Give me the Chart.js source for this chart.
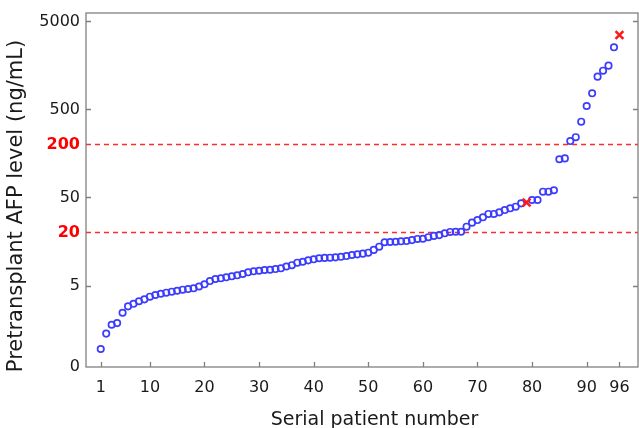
<!DOCTYPE html>
<html>
<head>
<meta charset="utf-8">
<script src="https://cdn.jsdelivr.net/npm/chart.js@4.4.1/dist/chart.umd.min.js"></script>
<style>
  html, body { margin: 0; padding: 0; background: #ffffff; }
  canvas { display: block; }
</style>
</head>
<body>
<canvas id="afp" width="639" height="428"></canvas>
<script>
// Serial patient numbers (x) and pretransplant AFP levels in ng/mL (y), sorted ascending
const serialNumbers = [1,2,3,4,5,6,7,8,9,10,11,12,13,14,15,16,17,18,19,20,21,22,23,24,25,26,27,28,29,30,31,32,33,34,35,36,37,38,39,40,41,42,43,44,45,46,47,48,49,50,51,52,53,54,55,56,57,58,59,60,61,62,63,64,65,66,67,68,69,70,71,72,73,74,75,76,77,78,79,80,81,82,83,84,85,86,87,88,89,90,91,92,93,94,95,96];
const afpLevels = [0.95,1.42,1.79,1.87,2.45,2.9,3.1,3.31,3.48,3.73,
                   3.9,4.03,4.14,4.25,4.36,4.48,4.56,4.65,4.87,5.16,
                   5.62,5.93,6.04,6.2,6.36,6.53,6.76,7.06,7.25,7.36,
                   7.5,7.55,7.69,7.84,8.22,8.51,9.08,9.31,9.66,9.93,
                   10.2,10.3,10.35,10.45,10.6,10.8,11.1,11.3,11.5,11.8,
                   12.7,13.8,15.5,15.6,15.7,15.9,16.0,16.4,16.9,17.0,
                   17.7,18.3,18.7,19.6,20.3,20.4,20.4,23.3,25.9,27.7,
                   29.8,32.5,32.5,33.9,36.0,37.7,39.3,42.9,43.9,46.8,
                   46.8,58.2,58.2,60.4,136,139,219,242,363,548,
                   764,1180,1380,1574,2545,3510];
// Patients drawn with a red cross instead of a circle
const markedPatients = [79, 96];
// AFP cut-off levels (ng/mL) shown as dashed lines
const thresholds = [20, 200];

// Axis ticks
const xTickValues = [1,10,20,30,40,50,60,70,80,90,96];
const yTickValues = [0.593,5,20,50,200,500,5000];
const yTickLabels = ['0','5','20','50','200','500','5000'];
const xRange = [-1.7, 99.4];
const yRange = [0.593, 6240];

const circlePoints = [];
const crossPoints = [];
serialNumbers.forEach((n, i) => {
  const p = { x: n, y: afpLevels[i] };
  (markedPatients.includes(n) ? crossPoints : circlePoints).push(p);
});

const thresholdSets = thresholds.map(t => ({
  type: 'line',
  data: [{ x: xRange[0], y: t }, { x: xRange[1], y: t }],
  borderColor: '#ff2a2a',
  borderWidth: 1.3,
  borderDash: [5, 4],
  pointRadius: 0,
  fill: false,
  order: 3
}));

const FONT = 'DejaVu Sans';

const framePlugin = {
  id: 'frame',
  afterDatasetsDraw(chart) {
    const { ctx, chartArea: a, scales: { x, y } } = chart;
    ctx.save();
    ctx.strokeStyle = '#808080';
    ctx.lineWidth = 1.3;
    ctx.strokeRect(a.left, a.top, a.right - a.left, a.bottom - a.top);
    ctx.beginPath();
    x.ticks.forEach(t => {
      const px = Math.round(x.getPixelForValue(t.value)) + 0.5;
      ctx.moveTo(px, a.bottom);
      ctx.lineTo(px, a.bottom - 5);
    });
    y.ticks.forEach(t => {
      if (t.value <= y.min || thresholds.includes(t.value)) return;
      const py = Math.round(y.getPixelForValue(t.value)) + 0.5;
      ctx.moveTo(a.left, py);
      ctx.lineTo(a.left + 5, py);
      ctx.moveTo(a.right, py);
      ctx.lineTo(a.right - 5, py);
    });
    ctx.stroke();

    // axis titles
    ctx.fillStyle = '#1a1a1a';
    ctx.font = '19px "' + FONT + '"';
    ctx.textAlign = 'center';
    ctx.textBaseline = 'alphabetic';
    ctx.fillText('Serial patient number', 374.5, 425);

    ctx.translate(21.5, 206);
    ctx.rotate(-Math.PI / 2);
    ctx.font = '21px "' + FONT + '"';
    ctx.fillText('Pretransplant AFP level (ng/mL)', 0, 0);
    ctx.restore();
  }
};

new Chart(document.getElementById('afp'), {
  type: 'scatter',
  data: {
    datasets: [
      {
        data: crossPoints,
        pointStyle: 'crossRot',
        pointRadius: 5.5,
        borderColor: '#ff1a1a',
        backgroundColor: '#ff1a1a',
        pointBorderWidth: 2.6,
        order: 1
      },
      {
        data: circlePoints,
        pointStyle: 'circle',
        pointRadius: 3.2,
        borderColor: '#3c3cff',
        backgroundColor: 'rgba(255,255,255,0)',
        pointBorderWidth: 1.7,
        order: 2
      },
      ...thresholdSets
    ]
  },
  options: {
    responsive: false,
    devicePixelRatio: 1,
    animation: false,
    layout: { autoPadding: false, padding: { top: 13, right: 1, left: 0, bottom: 0 } },
    plugins: { legend: { display: false }, tooltip: { enabled: false } },
    scales: {
      x: {
        type: 'linear',
        min: xRange[0],
        max: xRange[1],
        bounds: 'data',
        afterBuildTicks: s => { s.ticks = xTickValues.map(v => ({ value: v })); },
        afterFit: s => { s.height = 61; s.paddingLeft = 0; s.paddingRight = 0; },
        grid: { display: false, drawTicks: false },
        border: { display: false },
        ticks: {
          padding: 11,
          autoSkip: false,
          maxRotation: 0,
          color: '#1a1a1a',
          font: { family: FONT, size: 16 },
          callback: v => String(v)
        }
      },
      y: {
        type: 'logarithmic',
        min: yRange[0],
        max: yRange[1],
        bounds: 'data',
        afterBuildTicks: s => { s.ticks = yTickValues.map(v => ({ value: v })); },
        afterFit: s => { s.width = 86; s.paddingTop = 0; s.paddingBottom = 0; },
        grid: { display: false, drawTicks: false },
        border: { display: false },
        ticks: {
          padding: 6,
          autoSkip: false,
          callback: (v, i) => yTickLabels[i],
          color: c => thresholds.includes(c.tick.value) ? '#ff0000' : '#1a1a1a',
          font: c => thresholds.includes(c.tick.value)
            ? { family: FONT, size: 16, weight: 'bold' }
            : { family: FONT, size: 16 }
        }
      }
    }
  },
  plugins: [framePlugin]
});
</script>
</body>
</html>
